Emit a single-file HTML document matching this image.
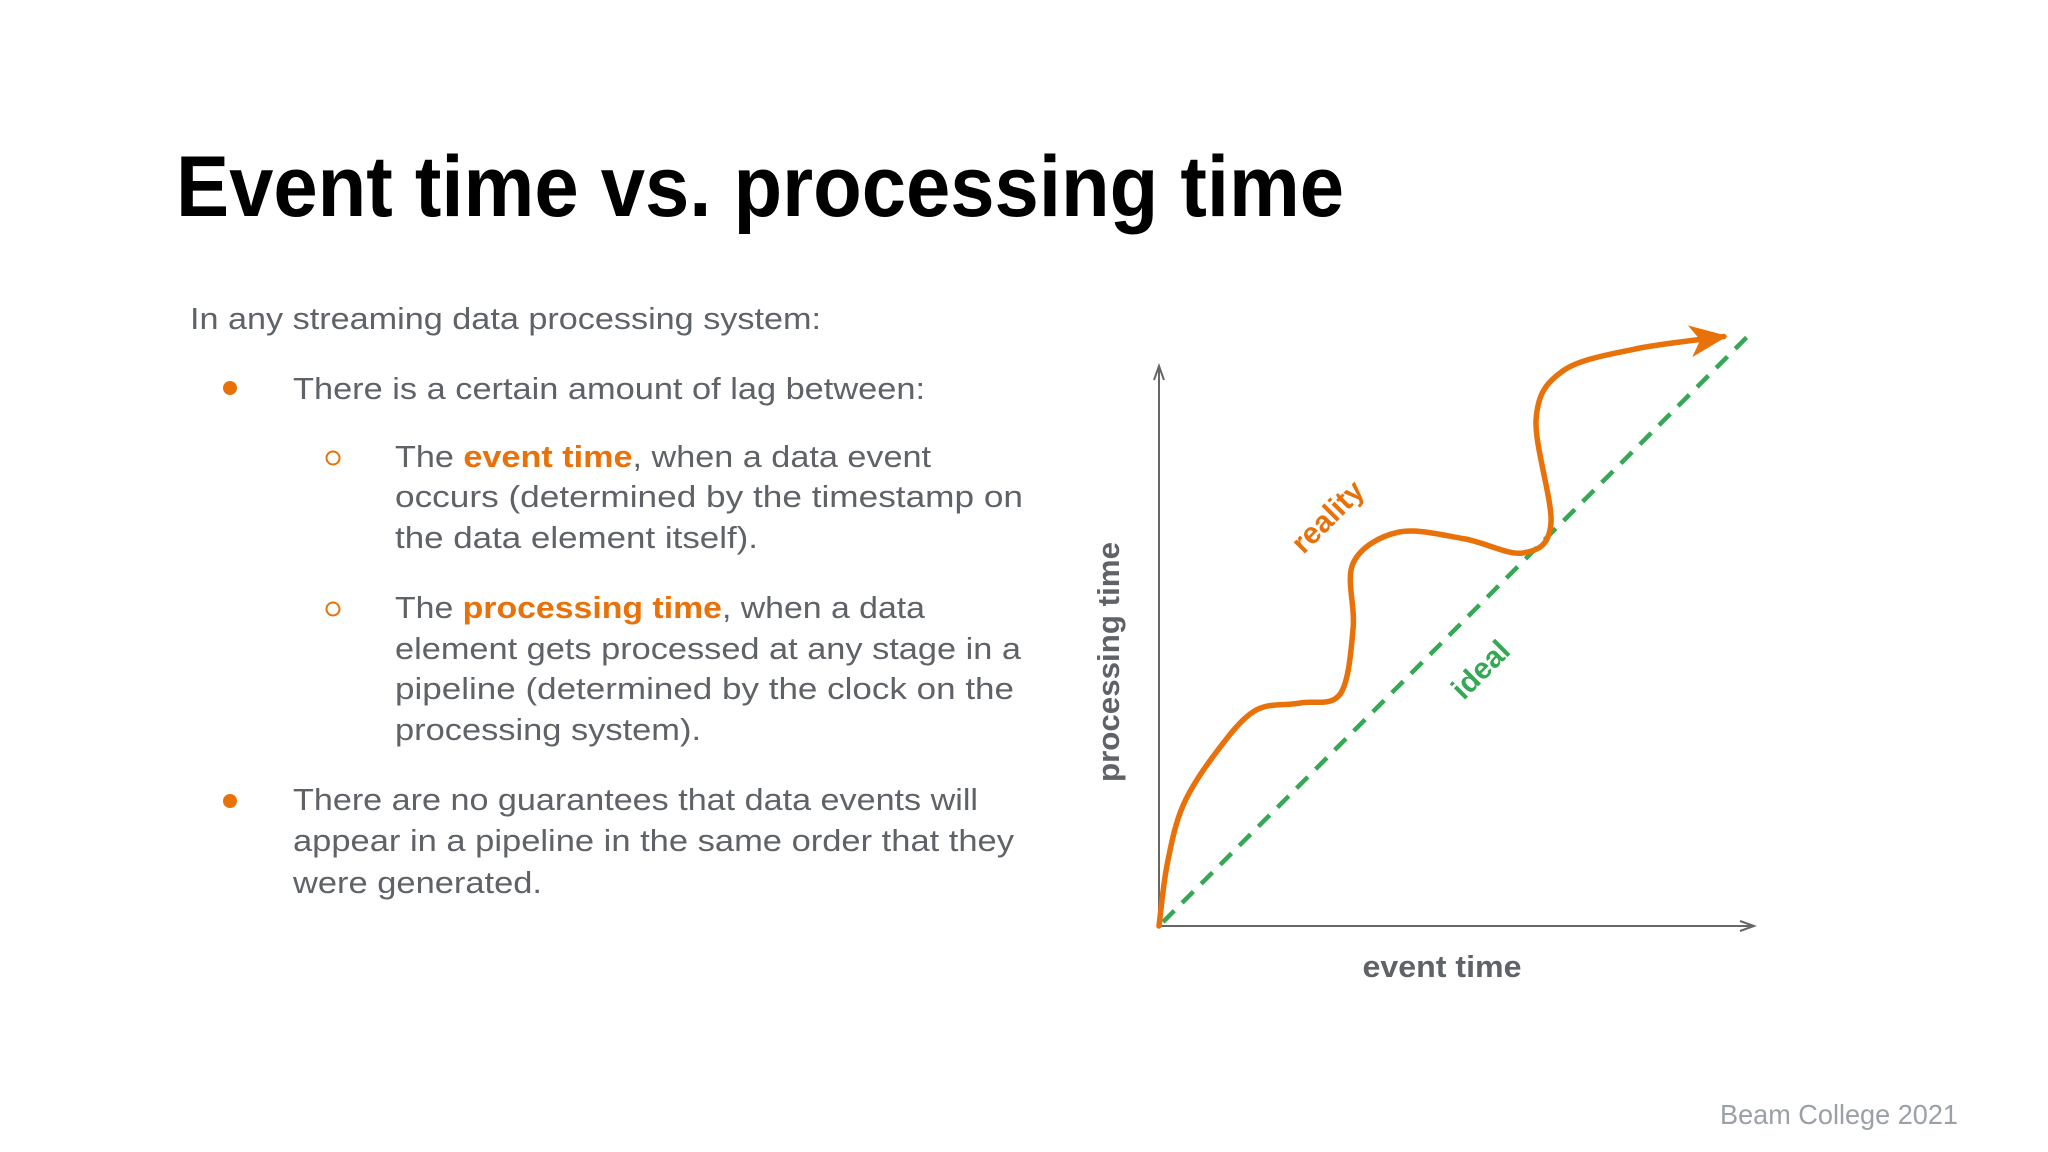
<!DOCTYPE html>
<html><head><meta charset="utf-8"><style>
html,body{margin:0;padding:0;background:#fff;}
svg{display:block;}
text{font-family:"Liberation Sans",sans-serif;}
</style></head><body>
<svg id="slide" width="2048" height="1152" viewBox="0 0 2048 1152" xmlns="http://www.w3.org/2000/svg">
<text x="176" y="216" font-size="86" font-weight="bold" fill="#000" textLength="1168" lengthAdjust="spacingAndGlyphs">Event time vs. processing time</text>
<g font-size="31" fill="#5f6368">
<text x="190" y="329" textLength="631" lengthAdjust="spacingAndGlyphs">In any streaming data processing system:</text>
<circle cx="230" cy="388" r="7" fill="#e8710a"/>
<text x="293" y="399" textLength="632" lengthAdjust="spacingAndGlyphs">There is a certain amount of lag between:</text>
<circle cx="333" cy="458" r="6.5" fill="none" stroke="#e8710a" stroke-width="2"/>
<text x="395" y="467" textLength="536" lengthAdjust="spacingAndGlyphs">The <tspan fill="#e8710a" font-weight="bold">event time</tspan>, when a data event</text>
<text x="395" y="507" textLength="628" lengthAdjust="spacingAndGlyphs">occurs (determined by the timestamp on</text>
<text x="395" y="548" textLength="363" lengthAdjust="spacingAndGlyphs">the data element itself).</text>
<circle cx="333" cy="609" r="6.5" fill="none" stroke="#e8710a" stroke-width="2"/>
<text x="395" y="618" textLength="530" lengthAdjust="spacingAndGlyphs">The <tspan fill="#e8710a" font-weight="bold">processing time</tspan>, when a data</text>
<text x="395" y="659" textLength="626" lengthAdjust="spacingAndGlyphs">element gets processed at any stage in a</text>
<text x="395" y="699" textLength="619" lengthAdjust="spacingAndGlyphs">pipeline (determined by the clock on the</text>
<text x="395" y="740" textLength="306" lengthAdjust="spacingAndGlyphs">processing system).</text>
<circle cx="230" cy="801" r="7" fill="#e8710a"/>
<text x="293" y="810" textLength="685" lengthAdjust="spacingAndGlyphs">There are no guarantees that data events will</text>
<text x="293" y="851" textLength="721" lengthAdjust="spacingAndGlyphs">appear in a pipeline in the same order that they</text>
<text x="293" y="893" textLength="249" lengthAdjust="spacingAndGlyphs">were generated.</text>
</g>
<g id="chart"></g>
<text x="1958" y="1124" font-size="28" fill="#9aa0a6" text-anchor="end" textLength="238" lengthAdjust="spacingAndGlyphs">Beam College 2021</text>
</svg>
<script>
const idealX = [0, 100];
const idealY = [0, 100];
const realityX = [0, 1.4, 4.1, 9.6, 16.2, 23.8, 30.6, 32.8, 32.8, 40.4, 51.5, 61.5, 66.2, 63.7, 68.2, 80.4, 95.4];
const realityY = [0, 10.5, 20.4, 29.2, 36.3, 37.6, 39.1, 50.3, 61.2, 66.4, 65.3, 62.9, 67.8, 85.5, 93.6, 97.3, 99.4];
const axisLabels = ["event time", "processing time"];
const seriesLabels = ["reality", "ideal"];

const X0 = 1159, X1 = 1751, Y0 = 926, Y1 = 333;
function xs(v){ return X0 + v * (X1 - X0) / 100; }
function ys(v){ return Y0 - v * (Y0 - Y1) / 100; }
const NS = "http://www.w3.org/2000/svg";
const g = document.getElementById("chart");
function mk(tag, attrs){ const e = document.createElementNS(NS, tag); for (const k in attrs) e.setAttribute(k, attrs[k]); g.appendChild(e); return e; }

// axes
let e;
e = mk("line", {x1: X0, y1: Y0, x2: X0, y2: 368, stroke: "#666", "stroke-width": 2});


e = mk("path", {d: `M${X0-5},380 L${X0},366 L${X0+5},380`, fill: "none", stroke: "#666", "stroke-width": 2});


e = mk("line", {x1: X0, y1: Y0, x2: 1752, y2: Y0, stroke: "#666", "stroke-width": 2});


e = mk("path", {d: `M1740,${Y0-5} L1754,${Y0} L1740,${Y0+5}`, fill: "none", stroke: "#666", "stroke-width": 2});



// ideal
e = mk("line", {x1: xs(idealX[0]) + 4, y1: ys(idealY[0]) - 4, x2: xs(idealX[1]), y2: ys(idealY[1]), stroke: "#34a853", "stroke-width": 4.5, "stroke-dasharray": "16 11"});



// reality - catmull-rom
const pts = realityX.map((v, i) => [xs(v), ys(realityY[i])]);
let d = `M${pts[0][0]},${pts[0][1]}`;
for (let i = 0; i < pts.length - 1; i++) {
  const p0 = pts[Math.max(i - 1, 0)], p1 = pts[i], p2 = pts[i + 1], p3 = pts[Math.min(i + 2, pts.length - 1)];
  const c1 = [p1[0] + (p2[0] - p0[0]) / 6, p1[1] + (p2[1] - p0[1]) / 6];
  const c2 = [p2[0] - (p3[0] - p1[0]) / 6, p2[1] - (p3[1] - p1[1]) / 6];
  d += ` C${c1[0]},${c1[1]} ${c2[0]},${c2[1]} ${p2[0]},${p2[1]}`;
}
e = mk("path", {d: d, fill: "none", stroke: "#e8710a", "stroke-width": 5.5, "stroke-linecap": "round"});


// arrowhead
const tip = pts[pts.length - 1], prev = pts[pts.length - 2];
const ang = Math.atan2(tip[1] - prev[1], tip[0] - prev[0]);
const L = 34, W = 16;
function rot(dx, dy){ return [tip[0] + dx * Math.cos(ang) - dy * Math.sin(ang), tip[1] + dx * Math.sin(ang) + dy * Math.cos(ang)]; }
const a1 = rot(-L, -W), a2 = rot(-L * 0.7, 0), a3 = rot(-L, W);
e = mk("path", {d: `M${tip[0]+4*Math.cos(ang)},${tip[1]+4*Math.sin(ang)} L${a1[0]},${a1[1]} L${a2[0]},${a2[1]} L${a3[0]},${a3[1]} Z`, fill: "#e8710a"});



// labels
e = mk("text", {x: 1327, y: 527, "font-size": 30, "font-weight": "bold", fill: "#e8710a", "text-anchor": "middle", transform: "rotate(-45 1327 516)"});
e.textContent = seriesLabels[0];


e = mk("text", {x: 1480, y: 680, "font-size": 30, "font-weight": "bold", fill: "#34a853", "text-anchor": "middle", transform: "rotate(-45 1480 669)"});
e.textContent = seriesLabels[1];


e = mk("text", {x: 1442, y: 977, "font-size": 31, "font-weight": "bold", fill: "#5f6368", "text-anchor": "middle", textLength: 159, lengthAdjust: "spacingAndGlyphs"});
e.textContent = axisLabels[0];


e = mk("text", {x: 662, y: 0, "font-size": 31, "font-weight": "bold", fill: "#5f6368", "text-anchor": "middle", textLength: 240, lengthAdjust: "spacingAndGlyphs", transform: "translate(1119,1324) rotate(-90)"});
e.textContent = axisLabels[1];


</script>
</body></html>
